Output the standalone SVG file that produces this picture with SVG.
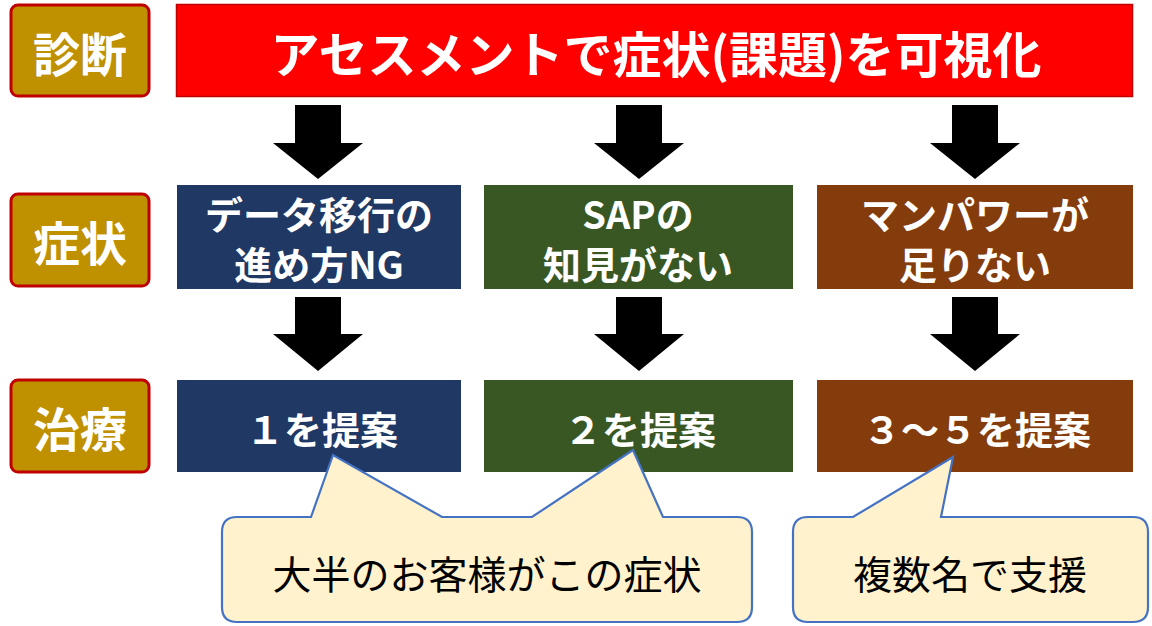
<svg xmlns="http://www.w3.org/2000/svg" width="1152" height="626" viewBox="0 0 1152 626">
<style>
  text { font-family: "Noto Sans CJK JP", "Noto Sans", sans-serif; }
  .lbl rect { fill: #BF9000; stroke: #C00000; stroke-width: 3; }
  .lbl text { fill: #FFFFFF; font-size: 47px; font-weight: bold; text-anchor: middle; dominant-baseline: central; }
  .box text { fill: #FFFFFF; font-size: 38px; font-weight: bold; text-anchor: middle; dominant-baseline: central; }
  .navy { fill: #203864; }
  .green { fill: #385723; }
  .brown { fill: #843C0C; }
  .arrow { fill: #000000; }
  .callout path { fill: #FFF2CC; stroke: #4472C4; stroke-width: 2.2; stroke-linejoin: miter; }
  .callout text { fill: #000000; font-size: 39px; text-anchor: middle; dominant-baseline: central; }
</style>

<g id="label-shindan" class="lbl">
  <rect x="11" y="5" width="138" height="91" rx="7"/>
  <text x="80" y="51">診断</text>
</g>
<g id="label-shojo" class="lbl">
  <rect x="11" y="194" width="138" height="92" rx="7"/>
  <text x="80" y="240">症状</text>
</g>
<g id="label-chiryo" class="lbl">
  <rect x="11" y="380" width="138" height="92" rx="7"/>
  <text x="80" y="426">治療</text>
</g>

<g id="banner">
  <rect x="176.5" y="4.5" width="956" height="92" fill="#FF0000" stroke="#C00000" stroke-width="1.5"/>
  <text x="656" y="51" fill="#FFFFFF" font-size="49" font-weight="bold" text-anchor="middle" dominant-baseline="central">アセスメントで症状(課題)を可視化</text>
</g>

<g id="sym-1" class="box">
  <rect class="navy" x="177" y="185" width="284" height="104"/>
  <text x="319" y="212">データ移行の</text>
  <text x="319" y="262">進め方NG</text>
</g>
<g id="sym-2" class="box">
  <rect class="green" x="484" y="185" width="309" height="104"/>
  <text x="638" y="212">SAPの</text>
  <text x="638" y="262">知見がない</text>
</g>
<g id="sym-3" class="box">
  <rect class="brown" x="817" y="185" width="316" height="104"/>
  <text x="975" y="212">マンパワーが</text>
  <text x="975" y="262">足りない</text>
</g>

<g id="treat-1" class="box">
  <rect class="navy" x="177" y="380" width="284" height="92"/>
  <text x="322" y="427">１を提案</text>
</g>
<g id="treat-2" class="box">
  <rect class="green" x="484" y="380" width="309" height="92"/>
  <text x="640" y="427">２を提案</text>
</g>
<g id="treat-3" class="box">
  <rect class="brown" x="817" y="380" width="316" height="92"/>
  <text x="977" y="427">３～５を提案</text>
</g>

<g id="connectors">
  <polygon class="arrow" points="295,105 341,105 341,143 363,143 318,179 273,143 295,143"/>
  <polygon class="arrow" points="616,105 662,105 662,143 684,143 639,179 594,143 616,143"/>
  <polygon class="arrow" points="952,105 998,105 998,143 1020,143 975,179 930,143 952,143"/>
  <polygon class="arrow" points="295,297 341,297 341,334 363,334 318,371 273,334 295,334"/>
  <polygon class="arrow" points="616,297 662,297 662,334 684,334 639,371 594,334 616,334"/>
  <polygon class="arrow" points="952,297 998,297 998,334 1020,334 975,371 930,334 952,334"/>
</g>

<g id="callout-1" class="callout">
  <path d="M 237,517 L 311,517 L 333,455 L 442,517 L 532,517 L 633,450 L 663,517 L 737,517 Q 752,517 752,532 L 752,607 Q 752,622 737,622 L 237,622 Q 222,622 222,607 L 222,532 Q 222,517 237,517 Z"/>
  <text x="487" y="572">大半のお客様がこの症状</text>
</g>
<g id="callout-2" class="callout">
  <path d="M 808,517 L 853,517 L 953,457 L 941,517 L 1133,517 Q 1148,517 1148,532 L 1148,607 Q 1148,622 1133,622 L 808,622 Q 793,622 793,607 L 793,532 Q 793,517 808,517 Z"/>
  <text x="970" y="572">複数名で支援</text>
</g>
</svg>
